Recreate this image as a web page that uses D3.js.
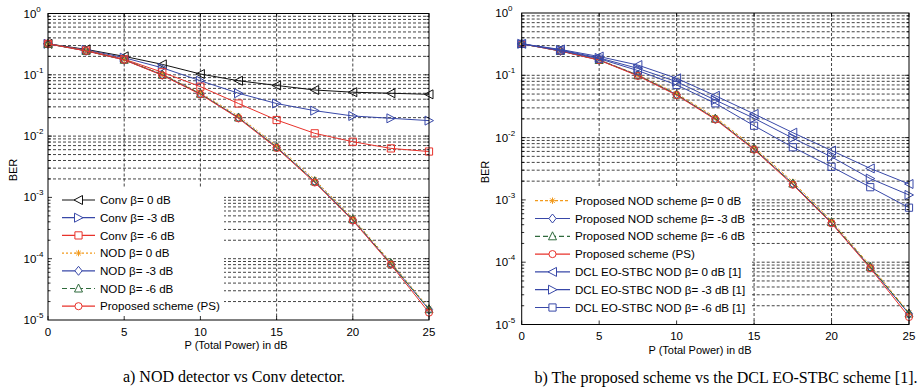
<!DOCTYPE html>
<html>
<head>
<meta charset="utf-8">
<script src="https://cdn.jsdelivr.net/npm/d3@7"></script>
<style>
  body { margin: 0; background: #fff; }
  text { font-family: "Liberation Sans", Arial, sans-serif; fill: #000; }
  .caption { font-family: "Liberation Serif", "Times New Roman", serif; }
</style>
</head>
<body>
<div id="chart"></div>
<script>
// x values shared by every curve (dB)
const powerDb = [0, 2.5, 5, 7.5, 10, 12.5, 15, 17.5, 20, 22.5, 25];
const xTicks = [0, 5, 10, 15, 20, 25];
const yExponents = [0, -1, -2, -3, -4, -5];

// panel a) BER values
const convB0 = [0.32, 0.26, 0.20, 0.148, 0.103, 0.080, 0.067, 0.0565, 0.052, 0.050, 0.048];
const convB3 = [0.32, 0.255, 0.19, 0.13, 0.080, 0.050, 0.034, 0.026, 0.0213, 0.0195, 0.0179];
const convB6 = [0.32, 0.25, 0.18, 0.11, 0.064, 0.034, 0.0183, 0.0111, 0.0081, 0.0063, 0.0056];
const nodB0 = [0.32, 0.248, 0.178, 0.102, 0.051, 0.0212, 0.0070, 0.00195, 0.00046, 0.000088, 0.0000155];
const nodB3 = [0.32, 0.246, 0.176, 0.100, 0.049, 0.0200, 0.0066, 0.00182, 0.00043, 0.000083, 0.0000148];
const nodB6 = [0.32, 0.246, 0.176, 0.100, 0.049, 0.0201, 0.0066, 0.00183, 0.00044, 0.000084, 0.000015];
const proposedPS = [0.32, 0.245, 0.175, 0.098, 0.048, 0.0195, 0.0064, 0.00175, 0.00042, 0.000080, 0.0000132];

// panel b) extra BER values (DCL EO-STBC)
const dclB0 = [0.32, 0.26, 0.20, 0.146, 0.0895, 0.047, 0.024, 0.012, 0.0062, 0.0032, 0.0018];
const dclB3 = [0.32, 0.255, 0.19, 0.129, 0.079, 0.040, 0.0204, 0.0098, 0.0049, 0.0022, 0.0012];
const dclB6 = [0.32, 0.25, 0.185, 0.119, 0.070, 0.0355, 0.0155, 0.0070, 0.0034, 0.0016, 0.00075];

const BLACK = '#111111', BLUE = '#3848a8', RED = '#e8322b', ORANGE = '#f29a1c', GREEN = '#2f6a3c';

const leftSeries = [
  { label: 'Conv \u03b2= 0 dB', values: convB0, color: BLACK, marker: 'triLeft', dash: null },
  { label: 'Conv \u03b2= -3 dB', values: convB3, color: BLUE, marker: 'triRight', dash: null },
  { label: 'Conv \u03b2= -6 dB', values: convB6, color: RED, marker: 'square', dash: null },
  { label: 'NOD \u03b2= 0 dB', values: nodB0, color: ORANGE, marker: 'star', dash: '2,2' },
  { label: 'NOD \u03b2= -3 dB', values: nodB3, color: BLUE, marker: 'diamond', dash: null },
  { label: 'NOD \u03b2= -6 dB', values: nodB6, color: GREEN, marker: 'triUp', dash: '5,3' },
  { label: 'Proposed scheme (PS)', values: proposedPS, color: RED, marker: 'circle', dash: null }
];

const rightSeries = [
  { label: 'Proposed NOD scheme \u03b2= 0 dB', values: nodB0, color: ORANGE, marker: 'star', dash: '3,2' },
  { label: 'Proposed NOD scheme \u03b2= -3 dB', values: nodB3, color: BLUE, marker: 'diamond', dash: null },
  { label: 'Proposed NOD scheme \u03b2= -6 dB', values: nodB6, color: GREEN, marker: 'triUp', dash: '5,3' },
  { label: 'Proposed scheme (PS)', values: proposedPS, color: RED, marker: 'circle', dash: null },
  { label: 'DCL EO-STBC NOD \u03b2= 0 dB [1]', values: dclB0, color: BLUE, marker: 'triLeft', dash: null },
  { label: 'DCL EO-STBC NOD \u03b2= -3 dB [1]', values: dclB3, color: BLUE, marker: 'triRight', dash: null },
  { label: 'DCL EO-STBC NOD \u03b2= -6 dB [1]', values: dclB6, color: BLUE, marker: 'square', dash: null }
];

const panels = [
  {
    left: 48, right: 429, top: 13.5, bottom: 320,
    series: leftSeries,
    legend: { x0: 48.5, x1: 224, y0: 188, row0: 200, rowGap: 17.7, lineX0: 62, lineX1: 95, textX: 100 },
    yLabelX: 13, yLabelY: 170, tickOffset: 11.5, xTickBase: 336, xLabel: { x: 236, y: 349 },
    caption: { text: 'a) NOD detector vs Conv detector.', x: 234, y: 382 }
  },
  {
    left: 521.7, right: 909, top: 13, bottom: 324.5,
    series: rightSeries,
    legend: { x0: 522.2, x1: 752, y0: 188, row0: 200.7, rowGap: 17.8, lineX0: 535, lineX1: 570, textX: 575 },
    yLabelX: 485, yLabelY: 172, tickOffset: 13.4, xTickBase: 339.5, xLabel: { x: 700, y: 354 },
    caption: { text: 'b) The proposed scheme vs the DCL EO-STBC scheme [1].', x: 726, y: 383 }
  }
];

function markerPath(type) {
  switch (type) {
    case 'triLeft': return 'M4,-4.5L-4.5,0L4,4.5Z';
    case 'triRight': return 'M-4,-4.5L4.5,0L-4,4.5Z';
    case 'triUp': return 'M-4,3.5L0,-4.5L4,3.5Z';
    case 'square': return 'M-3.6,-3.6H3.6V3.6H-3.6Z';
    case 'diamond': return 'M0,-4.5L3.6,0L0,4.5L-3.6,0Z';
    case 'circle': return d3.symbol(d3.symbolCircle, 40)();
    case 'star': return 'M-3.2,0H3.2M0,-3.2V3.2M-2.3,-2.3L2.3,2.3M-2.3,2.3L2.3,-2.3';
  }
}

const svg = d3.select('#chart').append('svg')
  .attr('width', 921)
  .attr('height', 389);

panels.forEach(p => drawPanel(p));

function drawPanel(p) {
  const x = d3.scaleLinear().domain([0, 25]).range([p.left, p.right]);
  const y = d3.scaleLog().domain([1e-5, 1]).range([p.bottom, p.top]);
  const g = svg.append('g');

  // grid: minor horizontal lines at every 1..9 x 10^k, vertical at x ticks
  const gridY = [];
  for (let e = -5; e < 0; e++) for (let m = 1; m <= 9; m++) gridY.push(m * Math.pow(10, e));
  g.append('g').selectAll('line').data(gridY.filter(v => v > 1e-5)).join('line')
    .attr('x1', p.left).attr('x2', p.right)
    .attr('y1', d => y(d)).attr('y2', d => y(d))
    .attr('stroke', '#222').attr('stroke-width', 0.85).attr('stroke-dasharray', '3,2');
  g.append('g').selectAll('line').data(xTicks.slice(1, -1)).join('line')
    .attr('x1', d => x(d)).attr('x2', d => x(d))
    .attr('y1', p.top).attr('y2', p.bottom)
    .attr('stroke', '#222').attr('stroke-width', 0.85).attr('stroke-dasharray', '3,2');

  // legend background hides the grid
  g.append('rect')
    .attr('x', p.legend.x0).attr('y', p.legend.y0)
    .attr('width', p.legend.x1 - p.legend.x0).attr('height', p.bottom - p.legend.y0 - 0.5)
    .attr('fill', '#fff');

  // curves
  const line = d3.line().x((d, i) => x(powerDb[i])).y(d => y(d));
  p.series.forEach(s => {
    g.append('path')
      .attr('d', line(s.values))
      .attr('fill', 'none')
      .attr('stroke', s.color)
      .attr('stroke-width', 1)
      .attr('stroke-dasharray', s.dash);
    g.append('g').selectAll('path').data(s.values).join('path')
      .attr('transform', (d, i) => `translate(${x(powerDb[i])},${y(d)})`)
      .attr('d', markerPath(s.marker))
      .attr('fill', 'none')
      .attr('stroke', s.color)
      .attr('stroke-width', 1);
  });

  // legend entries
  const rows = g.append('g').selectAll('g').data(p.series).join('g')
    .attr('transform', (d, i) => `translate(0,${p.legend.row0 + i * p.legend.rowGap})`);
  rows.append('line')
    .attr('x1', p.legend.lineX0).attr('x2', p.legend.lineX1)
    .attr('stroke', d => d.color).attr('stroke-width', 1.2)
    .attr('stroke-dasharray', d => d.dash);
  rows.append('path')
    .attr('transform', `translate(${(p.legend.lineX0 + p.legend.lineX1) / 2},0)`)
    .attr('d', d => markerPath(d.marker))
    .attr('fill', '#fff')
    .attr('stroke', d => d.color);
  rows.append('text')
    .attr('x', p.legend.textX).attr('dy', '0.36em')
    .attr('font-size', 11.6)
    .text(d => d.label);

  // frame
  g.append('rect')
    .attr('x', p.left).attr('y', p.top)
    .attr('width', p.right - p.left).attr('height', p.bottom - p.top)
    .attr('fill', 'none').attr('stroke', '#000').attr('stroke-width', 1);

  // ticks inside the frame
  const minorY = gridY.filter(v => v > 1e-5);
  g.append('g').selectAll('path').data(minorY).join('path')
    .attr('d', d => {
      const len = Math.abs(Math.log10(d) % 1) < 1e-9 ? 4 : 2.5;
      return `M${p.left},${y(d)}h${len}M${p.right},${y(d)}h${-len}`;
    })
    .attr('stroke', '#000').attr('stroke-width', 0.8);
  g.append('g').selectAll('path').data(xTicks).join('path')
    .attr('d', d => `M${x(d)},${p.bottom}v-4M${x(d)},${p.top}v4`)
    .attr('stroke', '#000').attr('stroke-width', 0.8);

  // y tick labels 10^k
  const yLab = g.append('g').selectAll('text').data(yExponents).join('text')
    .attr('y', d => y(Math.pow(10, d)) + 4)
    .attr('font-size', 11.5);
  yLab.append('tspan')
    .attr('x', p.left - p.tickOffset - 13).text('10');
  yLab.append('tspan')
    .attr('dy', -6).attr('font-size', 8).text(d => d);

  // x tick labels
  g.append('g').selectAll('text').data(xTicks).join('text')
    .attr('x', d => x(d)).attr('y', p.xTickBase)
    .attr('text-anchor', 'middle').attr('font-size', 11.5)
    .text(d => d);

  // axis titles
  g.append('text')
    .attr('x', p.xLabel.x).attr('y', p.xLabel.y)
    .attr('text-anchor', 'middle').attr('font-size', 11)
    .text('P (Total Power) in dB');
  g.append('text')
    .attr('transform', `translate(${p.yLabelX + 4},${p.yLabelY}) rotate(-90)`)
    .attr('text-anchor', 'middle').attr('font-size', 11)
    .text('BER');

  g.append('text')
    .attr('class', 'caption')
    .attr('x', p.caption.x).attr('y', p.caption.y)
    .attr('text-anchor', 'middle').attr('font-size', 16)
    .text(p.caption.text);
}
</script>
</body>
</html>
